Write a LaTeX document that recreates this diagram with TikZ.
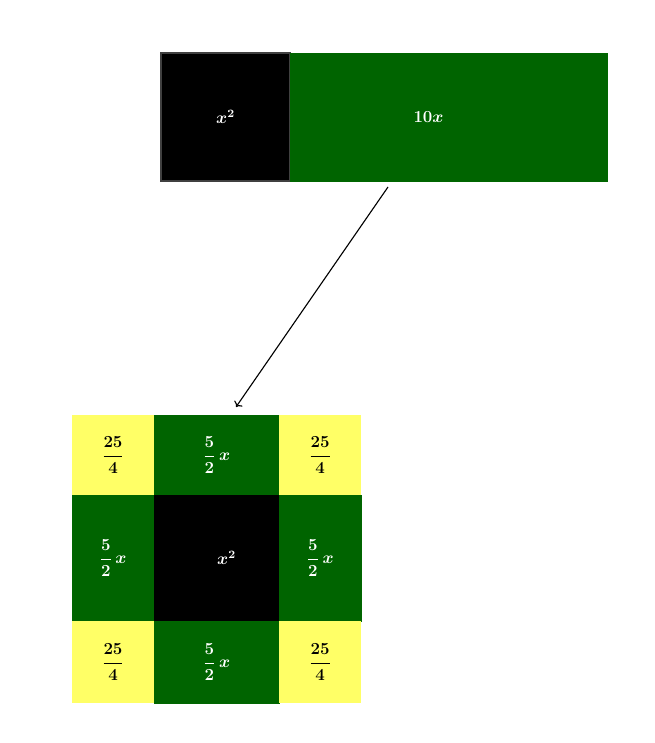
\documentclass[tikz,border=0pt]{standalone}
\usepackage{amsmath}
\usetikzlibrary{positioning,arrows.meta}
\definecolor{sqgreen}{RGB}{0,100,0}
\definecolor{sqyellow}{RGB}{255,255,102}

\begin{document}
\begin{tikzpicture}[
  x=0.025cm, y=-0.025cm,
  font=\large\boldmath,
  cell/.style={rectangle, inner sep=0pt, outer sep=0pt, align=center},
  sq/.style={cell, fill=black, text=white},
  sqtop/.style={sq, draw=black!75, line width=0.9pt},
  bar/.style={cell, fill=sqgreen, draw=green!40!black, line width=0.3pt, text=white},
  corner/.style={cell, fill=sqyellow, text=black},
  lbl/.style={inner sep=0pt},
  colA/.style={minimum width=2.05cm},
  colB/.style={minimum width=3.125cm},
  rowA/.style={minimum height=2cm},
  rowB/.style={minimum height=3.15cm},
  rowC/.style={minimum height=2.05cm},
  node distance=0pt,
]
\useasboundingbox (0,0) rectangle (655,743);

% ---- top: x^2 + 10x ----
\node[sqtop, minimum width=3.225cm, minimum height=3.2cm] (topsq) at (225.5,117) {$x^2$};
\node[bar, minimum width=7.925cm, minimum height=3.2cm, right=of topsq] (tenx) {};
\node[lbl, text=white] (tenxlbl) at ([xshift=-0.5cm]tenx.center) {$10x$};

% ---- completed square ----
\node[corner, colA, rowA] (c11) at (113,455) {$\dfrac{25}{4}$};
\node[bar, colB, rowA, right=of c11] (c12) {$\dfrac{5}{2}\,x$};
\node[corner, colA, rowA, right=of c12] (c13) {$\dfrac{25}{4}$};

\node[bar, colA, rowB, below=of c11] (c21) {$\dfrac{5}{2}\,x$};
\node[sq, colB, rowB, right=of c21] (c22) {\hspace*{0.5cm}$x^2$};
\node[bar, colA, rowB, right=of c22] (c23) {$\dfrac{5}{2}\,x$};

\node[corner, colA, rowC, below=of c21] (c31) {$\dfrac{25}{4}$};
\node[bar, colB, rowC, right=of c31] (c32) {$\dfrac{5}{2}\,x$};
\node[corner, colA, rowC, right=of c32] (c33) {$\dfrac{25}{4}$};

% ---- arrow ----
\coordinate (arrstart) at (388,187);
\coordinate (arrend) at (236,407);
\draw[->, thick] (arrstart) -- (arrend);
\end{tikzpicture}
\end{document}
